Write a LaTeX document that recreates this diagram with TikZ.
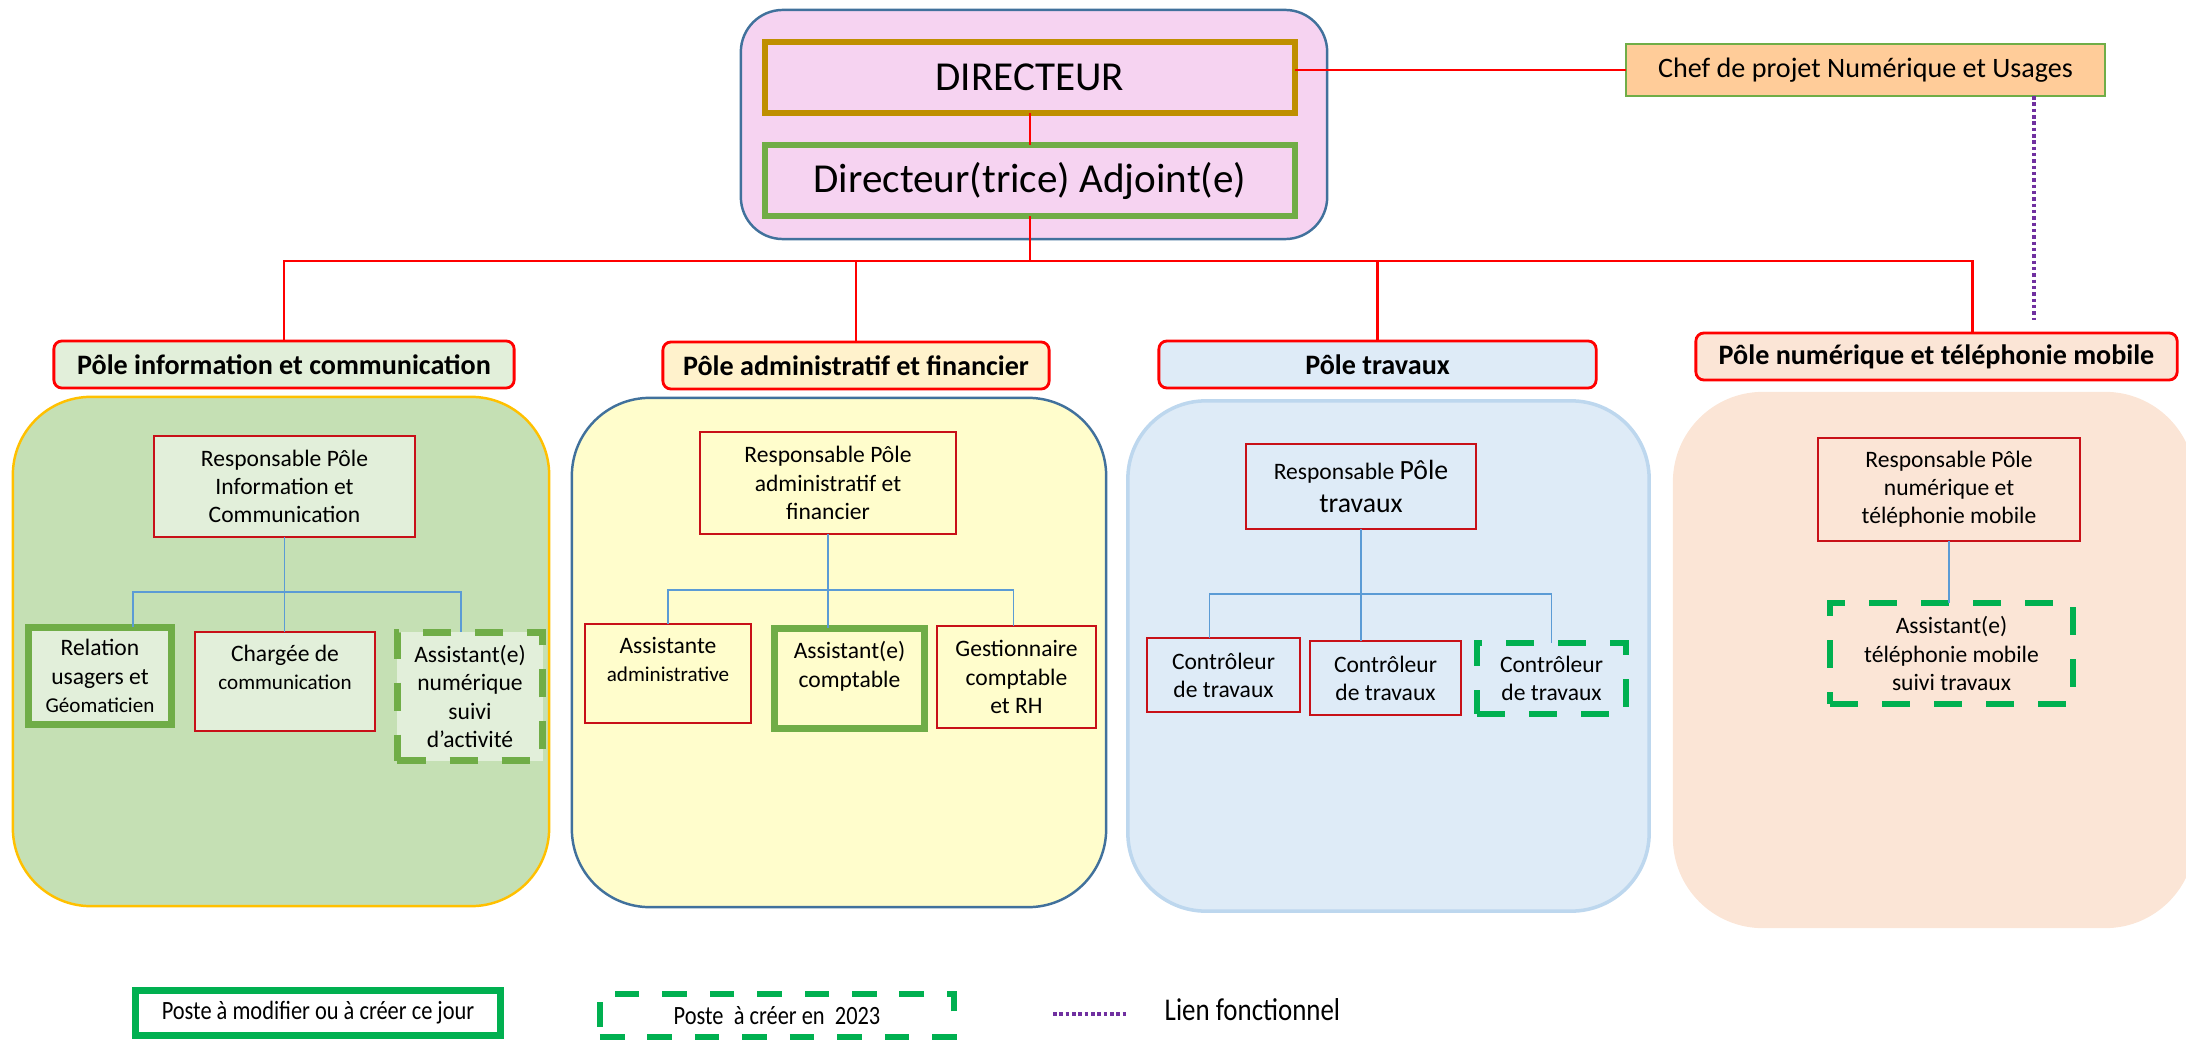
\documentclass[tikz,border=0pt]{standalone}
\usepackage{fontspec}
\setmainfont{Carlito}
\newfontfamily\etroite[FakeStretch=0.85]{Carlito}

\definecolor{fondDir}{RGB}{246,211,241}
\definecolor{bleuCadre}{RGB}{65,113,156}
\definecolor{orDir}{RGB}{191,143,0}
\definecolor{vertOlive}{RGB}{112,173,71}
\definecolor{vertVif}{RGB}{0,176,80}
\definecolor{rougeVif}{RGB}{255,0,0}
\definecolor{rougePoste}{RGB}{200,16,24}
\definecolor{peche}{RGB}{255,204,153}
\definecolor{vertFond}{RGB}{197,224,180}
\definecolor{vertClair}{RGB}{226,239,218}
\definecolor{jauneFond}{RGB}{255,253,204}
\definecolor{jauneClair}{RGB}{255,242,204}
\definecolor{bleuFond}{RGB}{222,235,247}
\definecolor{bleuBord}{RGB}{189,215,238}
\definecolor{pecheFond}{RGB}{251,229,214}
\definecolor{orBord}{RGB}{255,192,0}
\definecolor{bleuLien}{RGB}{91,155,213}
\definecolor{violetLien}{RGB}{112,48,160}

\newcommand\dirfont{\fontsize{11.7pt}{14pt}\selectfont}
\newcommand\chefont{\fontsize{8pt}{9.6pt}\selectfont}
\newcommand\polefont{\bfseries\fontsize{8pt}{9.6pt}\selectfont}
\newcommand\postefont{\fontsize{6.7pt}{8pt}\selectfont}
\newcommand\petitfont{\fontsize{6pt}{8pt}\selectfont}
\newcommand\grandfont{\fontsize{7.9pt}{9.2pt}\selectfont}
\newcommand\legfont{\etroite\fontsize{7.5pt}{9pt}\selectfont}
\newcommand\lienfont{\etroite\fontsize{9pt}{11pt}\selectfont}

\tikzset{
  box/.style={draw, inner sep=0pt, outer sep=0pt, align=center, font=\postefont},
  poste/.style={box, draw=rougePoste, line width=0.5pt},
  actuel/.style={box, draw=vertOlive, line width=2pt},
  futur/.style={box, draw=#1, line width=1.8pt, dash pattern=on 8pt off 6.8pt},
  entete/.style={box, draw=rougeVif, line width=0.8pt, rounded corners=0.08cm, font=\polefont},
  pole/.style={inner sep=0pt, outer sep=0pt, rounded corners=0.78cm, line width=0.7pt},
  liaison/.style={draw=rougeVif, line width=0.7pt},
  branche/.style={draw=bleuLien, line width=0.5pt},
  fonctionnel/.style={draw=violetLien, line width=1.1pt, dash pattern=on 1pt off 0.8pt}
}

\begin{document}
\begin{tikzpicture}[x=0.01cm, y=-0.01cm]
  \useasboundingbox (0,0) rectangle (2186,1040);

  % direction
  \node[pole, fill=fondDir, draw=bleuCadre, rounded corners=0.42cm, minimum width=5.86cm, minimum height=2.29cm] (cdir) at (1034,124.5) {};
  \node[box, draw=orDir, line width=1.7pt, minimum width=5.30cm, minimum height=0.71cm, font=\dirfont] (dir) at (1030,77.5) {DIRECTEUR};
  \node[box, draw=vertOlive, line width=1.7pt, minimum width=5.30cm, minimum height=0.71cm, font=\dirfont] (adj) at (1030,180.5) {Directeur(trice) Adjoint(e)};
  \node[box, fill=peche, draw=vertOlive, line width=0.7pt, minimum width=4.79cm, minimum height=0.52cm, font=\chefont] (chef) at (1865.5,70) {Chef de projet Numérique et Usages};

  % fonds des poles
  \node[pole, fill=vertFond, draw=orBord, minimum width=5.36cm, minimum height=5.09cm] (cinfo) at (281,651.5) {};
  \node[pole, fill=jauneFond, draw=bleuCadre, minimum width=5.34cm, minimum height=5.09cm] (cadm) at (839,652.5) {};
  \node[pole, fill=bleuFond, draw=bleuBord, line width=1pt, minimum width=5.21cm, minimum height=5.10cm] (ctrav) at (1388.5,656) {};
  \node[pole, fill=pecheFond, rounded corners=0.9cm, minimum width=5.22cm, minimum height=5.36cm] (cnum) at (1934,660) {};

  % entetes
  \node[entete, fill=vertClair, minimum width=4.60cm, minimum height=0.47cm] (hinfo) at (284,364.5) {Pôle information et communication};
  \node[entete, fill=jauneClair, minimum width=3.86cm, minimum height=0.47cm] (hadm) at (856,365.5) {Pôle administratif et financier};
  \node[entete, fill=bleuFond, minimum width=4.37cm, minimum height=0.47cm] (htrav) at (1377.5,364.5) {Pôle travaux};
  \node[entete, fill=pecheFond, minimum width=4.81cm, minimum height=0.47cm] (hnum) at (1936.5,356.5) {Pôle numérique et téléphonie mobile};

  % pole information et communication
  \node[poste, fill=vertClair, minimum width=2.61cm, minimum height=1.01cm] (resp1) at (284.5,486.5) {Responsable Pôle\\Information et\\Communication};
  \node[actuel, fill=vertClair, minimum width=1.43cm, minimum height=0.97cm] (rel) at (100,676) {Relation\\usagers et\\{\petitfont Géomaticien}};
  \node[poste, fill=vertClair, minimum width=1.80cm, minimum height=0.99cm] (charg) at (285,681.5) {Chargée de\\{\petitfont communication}\\\mbox{}};
  \node[futur=vertOlive, fill=vertClair, minimum width=1.45cm, minimum height=1.28cm] (asnum) at (470,696.5) {Assistant(e)\\numérique\\suivi\\d’activité};

  % pole administratif et financier
  \node[poste, fill=jauneFond, minimum width=2.56cm, minimum height=1.02cm] (resp2) at (828,483) {Responsable Pôle\\administratif et\\financier};
  \node[poste, fill=jauneFond, minimum width=1.66cm, minimum height=0.99cm] (asadm) at (668,673.5) {Assistante\\{\petitfont administrative}\\\mbox{}};
  \node[actuel, fill=jauneFond, minimum width=1.50cm, minimum height=1.00cm] (ascomp) at (849.5,678.5) {Assistant(e)\\comptable\\\mbox{}};
  \node[poste, fill=jauneFond, minimum width=1.59cm, minimum height=1.02cm] (gest) at (1016.5,677) {Gestionnaire\\comptable\\et RH};

  % pole travaux
  \node[poste, fill=bleuFond, minimum width=2.30cm, minimum height=0.85cm, font=\fontsize{6.7pt}{9.2pt}\selectfont] (resp3) at (1361,486.5) {Responsable {\grandfont Pôle}\\{\grandfont travaux}};
  \node[poste, fill=bleuFond, minimum width=1.53cm, minimum height=0.74cm] (ctrl1) at (1223.5,675) {Contrôleur\\de travaux};
  \node[poste, fill=bleuFond, minimum width=1.51cm, minimum height=0.74cm] (ctrl2) at (1385.5,678) {Contrôleur\\de travaux};
  \node[futur=vertVif, fill=bleuFond, minimum width=1.49cm, minimum height=0.71cm] (ctrl3) at (1551.5,678.5) {Contrôleur\\de travaux};

  % pole numerique et telephonie mobile
  \node[poste, fill=pecheFond, minimum width=2.62cm, minimum height=1.03cm] (resp4) at (1949,489.5) {Responsable Pôle\\numérique et\\téléphonie mobile};
  \node[futur=vertVif, fill=pecheFond, minimum width=2.43cm, minimum height=1.01cm] (astel) at (1951.5,653.5) {Assistant(e)\\téléphonie mobile\\suivi travaux};

  % liaisons hierarchiques
  \coordinate (busDir) at (1030,261);
  \draw[liaison] (dir) -- (adj);
  \draw[liaison] (adj) -- (busDir);
  \draw[liaison] (hinfo.north) |- (busDir) -| ([xshift=0.36cm]hnum.north);
  \draw[liaison] (hadm.north) -- (hadm.north |- busDir);
  \draw[liaison] (htrav.north) -- (htrav.north |- busDir);
  \draw[liaison] (chef.west) -- (chef.west -| dir.east);

  \coordinate (fonctFin) at (2034,320);
  \draw[fonctionnel] (chef.south -| fonctFin) -- (fonctFin);

  \coordinate (bInfo) at (285,592);
  \draw[branche] (resp1.south) -- (resp1.south |- charg.north);
  \draw[branche] ([xshift=0.33cm]rel.north) |- (bInfo) -| ([xshift=-0.09cm]asnum.north);

  \coordinate (bAdm) at (828,590);
  \draw[branche] (resp2.south) -- (resp2.south |- ascomp.north);
  \draw[branche] (asadm.north) |- (bAdm) -| ([xshift=-0.03cm]gest.north);

  \coordinate (bTrav) at (1365,594);
  \draw[branche] (resp3.south) -- (resp3.south |- ctrl2.north);
  \draw[branche] ([xshift=-0.14cm]ctrl1.north) |- (bTrav) -| (ctrl3.north);

  \draw[branche] (resp4.south) -- (resp4.south |- astel.north);

  % legende
  \node[box, draw=vertVif, line width=2pt, fill=white, minimum width=3.65cm, minimum height=0.45cm, font=\legfont] (leg1) at (318,1013) {Poste à modifier ou à créer ce jour};
  \node[box, draw=vertVif, line width=1.5pt, dash pattern=on 7pt off 6.5pt, fill=white, minimum width=3.54cm, minimum height=0.43cm, font=\legfont] (leg2) at (777,1015.5) {Poste~ à créer en~ 2023};
  \coordinate (lienA) at (1053,1014);
  \coordinate (lienB) at (1127,1014);
  \draw[fonctionnel] (lienA) -- (lienB);
  \node[inner sep=0pt, anchor=west, font=\lienfont] (lien) at (1164,1010) {Lien fonctionnel};
\end{tikzpicture}
\end{document}
